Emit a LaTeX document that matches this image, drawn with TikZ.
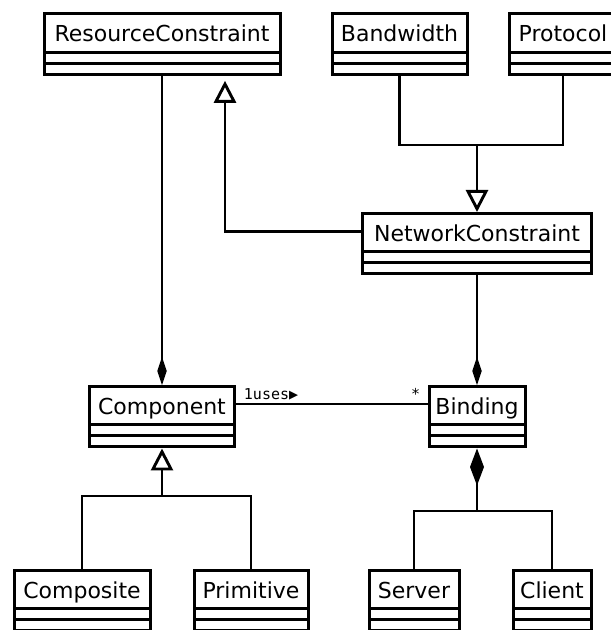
\documentclass[tikz,border=0pt]{standalone}
\usepackage{fontspec}
\setmainfont{DejaVu Sans}
\newfontfamily\assocfont{DejaVu Sans Mono}
\usetikzlibrary{positioning, arrows.meta, calc}

\begin{document}
\begin{tikzpicture}[
    x=1pt, y=1pt,
    umlclass/.style={
        draw, line width=3pt, anchor=north, inner xsep=0pt, inner ysep=0pt,
        minimum height=60.5pt, text height=28pt, text depth=32.5pt,
        font=\fontsize{22}{24}\selectfont,
        path picture={
            \draw[line width=3pt] ([yshift=-38.4pt]path picture bounding box.north west) -- ([yshift=-38.4pt]path picture bounding box.north east);
            \draw[line width=3pt] ([yshift=-49.4pt]path picture bounding box.north west) -- ([yshift=-49.4pt]path picture bounding box.north east);
        }
    },
    conn/.style={line width=2.9pt},
    gen/.style={-{Triangle[open, length=22pt, width=22pt]}},
    compo/.style={-{Diamond[length=28pt, width=9.5pt]}},
    mult/.style={font=\assocfont\fontsize{15}{17}\selectfont, inner sep=0pt}
]
\useasboundingbox (0,0) rectangle (611,630);

% Top row
\node[umlclass, minimum width=236pt] (rc) at (162, 617.7) {ResourceConstraint};
\node[umlclass, minimum width=135pt] (bw) at (399.5, 617.7) {Bandwidth};
\node[umlclass, minimum width=108pt] (pr) at (563, 617.7) {Protocol};

% Middle
\node[umlclass, minimum width=229pt] (nc) at (477, 418) {NetworkConstraint};
\node[umlclass, minimum width=145pt] (comp) at (162, 245) {Component};
\node[umlclass, minimum width=96pt] (bind) at (477, 245) {Binding};

% Bottom row
\node[umlclass, minimum width=136pt] (cmps) at (82, 61) {Composite};
\node[umlclass, minimum width=114pt] (prim) at (251, 61) {Primitive};
\node[umlclass, minimum width=90pt] (srv) at (414, 61) {Server};
\node[umlclass, minimum width=78pt] (cli) at (552, 61) {Client};

% Junction points
\path (nc.north) ++(0,67) coordinate (gbar);
\path (comp.south) ++(0,-47.5) coordinate (cbar);
\path (bind.south) ++(0,-62.5) coordinate (sbar);

% Generalizations
\draw[conn, gen] ([yshift=-19.5pt]nc.north west) -| ([xshift=63pt, yshift=-5pt]rc.south);
\draw[conn] (bw.south) |- (gbar) -| (pr.south);
\draw[conn, gen] (gbar) -- (nc.north);
\draw[conn] (cmps.north) |- (cbar) -| (prim.north);
\draw[conn, gen] (cbar) -- (comp.south);

% Compositions
\draw[conn, compo] (rc.south) -- (comp.north);
\draw[conn, compo] (nc.south) -- (bind.north);
\draw[conn] (srv.north) |- (sbar) -| (cli.north);
\draw[conn, -{Diamond[length=37pt, width=14pt]}] (sbar) -- (bind.south);

% Association
\draw[conn] ([yshift=-19pt]comp.north east) -- ([yshift=-19pt]bind.north west)
    node[mult, pos=0, anchor=base west, xshift=6.5pt, yshift=4pt] (uses) {1uses▶}
    node[mult, pos=1, anchor=base east, xshift=-6pt, yshift=4pt] (many) {*};

\end{tikzpicture}
\end{document}
